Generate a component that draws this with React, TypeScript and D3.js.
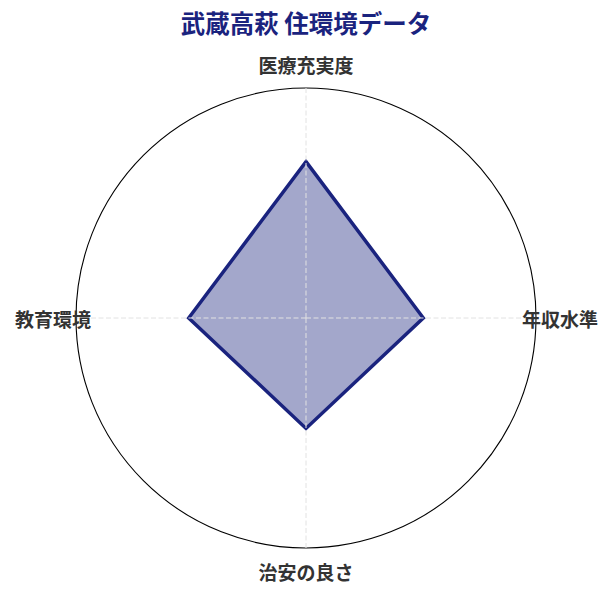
import React, { useEffect, useRef } from 'react';
import * as d3 from 'd3';

const title = '武蔵高萩 住環境データ';
const categories = ['医療充実度', '年収水準', '治安の良さ', '教育環境'];
const values = [68, 51, 48, 51];
const maxValue = 100;

const App: React.FC = () => {
  const chartRef = useRef<SVGSVGElement | null>(null);

  useEffect(() => {
    renderChart();
  }, []);

  const renderChart = () => {
    const width = 612;
    const height = 595;
    const cx = 306;
    const cy = 318;
    const radius = 230;
    const navy = '#1a237e';
    const font = '"Noto Sans CJK JP", "Noto Sans", sans-serif';

    d3.select(chartRef.current).selectAll('*').remove();

    const svg = d3.select(chartRef.current)
      .attr('width', width)
      .attr('height', height)
      .style('display', 'block');

    svg.append('rect')
      .attr('width', width)
      .attr('height', height)
      .attr('fill', '#fff');

    // Title
    svg.append('text')
      .attr('x', cx)
      .attr('y', 22)
      .attr('text-anchor', 'middle')
      .attr('dominant-baseline', 'central')
      .style('font-family', font)
      .style('font-size', '24.5px')
      .style('font-weight', 'bold')
      .style('fill', navy)
      .text(title);

    const g = svg.append('g')
      .attr('transform', `translate(${cx},${cy})`);

    const r = d3.scaleLinear().domain([0, maxValue]).range([0, radius]);
    const angle = d3.scalePoint<string>()
      .domain(categories)
      .range([0, 2 * Math.PI * (categories.length - 1) / categories.length]);

    // outer circle
    g.append('circle')
      .attr('r', radius)
      .attr('fill', 'none')
      .attr('stroke', '#000')
      .attr('stroke-width', 1.1);

    // data polygon
    const line = d3.lineRadial<number>()
      .angle((d, i) => angle(categories[i])!)
      .radius(d => r(d))
      .curve(d3.curveLinearClosed);

    g.append('path')
      .datum(values)
      .attr('d', line)
      .attr('fill', navy)
      .attr('fill-opacity', 0.4)
      .attr('stroke', navy)
      .attr('stroke-width', 3.5)
      .attr('stroke-linejoin', 'miter');

    // dashed spokes on top
    categories.forEach(c => {
      const a = angle(c)!;
      g.append('line')
        .attr('x1', 0)
        .attr('y1', 0)
        .attr('x2', radius * Math.sin(a))
        .attr('y2', -radius * Math.cos(a))
        .attr('stroke', '#e2e2e2')
        .attr('stroke-width', 1)
        .attr('stroke-dasharray', '5,2.5');
    });

    // category labels
    const labelPos: { [key: string]: { x: number; y: number; anchor: string } } = {
      '医療充実度': { x: 0, y: -254, anchor: 'middle' },
      '年収水準': { x: 216, y: 0, anchor: 'start' },
      '治安の良さ': { x: 0, y: 253, anchor: 'middle' },
      '教育環境': { x: -215, y: 0, anchor: 'end' },
    };

    categories.forEach(c => {
      const p = labelPos[c];
      g.append('text')
        .attr('x', p.x)
        .attr('y', p.y)
        .attr('text-anchor', p.anchor)
        .attr('dominant-baseline', 'central')
        .style('font-family', font)
        .style('font-size', '19px')
        .style('font-weight', 'bold')
        .style('fill', '#333')
        .text(c);
    });
  };

  return (
    <div style={{ margin: -8 }}>
      <svg ref={chartRef}></svg>
    </div>
  );
};

export default App;
